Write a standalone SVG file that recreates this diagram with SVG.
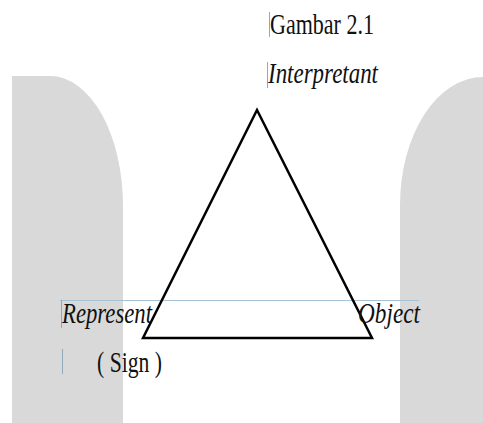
<svg xmlns="http://www.w3.org/2000/svg" width="483" height="423" viewBox="0 0 483 423">
<style>
.bg{fill:#d9d9d9}
.t{font-family:"Liberation Serif","Times New Roman",serif;font-size:25px;fill:#111}
.i{font-style:italic}
.guide{stroke:#a8c3d6;stroke-width:1;fill:none}
.cur{stroke:#8fa9bd;stroke-width:1}
.edge{fill:none;stroke:#000;stroke-width:2.5;stroke-linejoin:miter}
</style>
<g id="background">
<path class="bg" d="M12,76 L50,76 A73,130 0 0 1 123,206 L123,423 L12,423 Z"/>
<path class="bg" d="M483,77 A83,128 0 0 0 400,205 L400,423 L483,423 Z"/>
</g>
<g id="guides">
<line class="guide" x1="60" y1="300.5" x2="419" y2="300.5"/>
<line class="cur" x1="61.5" y1="300" x2="61.5" y2="328"/>
<line class="cur" x1="62.5" y1="349" x2="62.5" y2="374"/>
<line class="cur" x1="269.5" y1="12" x2="269.5" y2="37"/>
<line class="cur" x1="267.5" y1="62" x2="267.5" y2="88"/>
</g>
<g id="connectors">
<path class="edge" d="M257,110 L372,338 L143,338 Z"/>
</g>
<g id="title"><text class="t" transform="translate(270,34) scale(1,1.2)" textLength="104" lengthAdjust="spacingAndGlyphs">Gambar 2.1</text></g>
<g id="interpretant"><text class="t i" transform="translate(268,83) scale(1,1.2)" textLength="110" lengthAdjust="spacingAndGlyphs">Interpretant</text></g>
<g id="represent"><text class="t i" transform="translate(62,323) scale(1,1.2)" textLength="90" lengthAdjust="spacingAndGlyphs">Represent</text>
<text class="t" transform="translate(97,372) scale(1,1.2)" textLength="65" lengthAdjust="spacingAndGlyphs">( Sign )</text></g>
<g id="object"><text class="t i" transform="translate(358,323) scale(1,1.2)" textLength="62" lengthAdjust="spacingAndGlyphs">Object</text></g>
</svg>
